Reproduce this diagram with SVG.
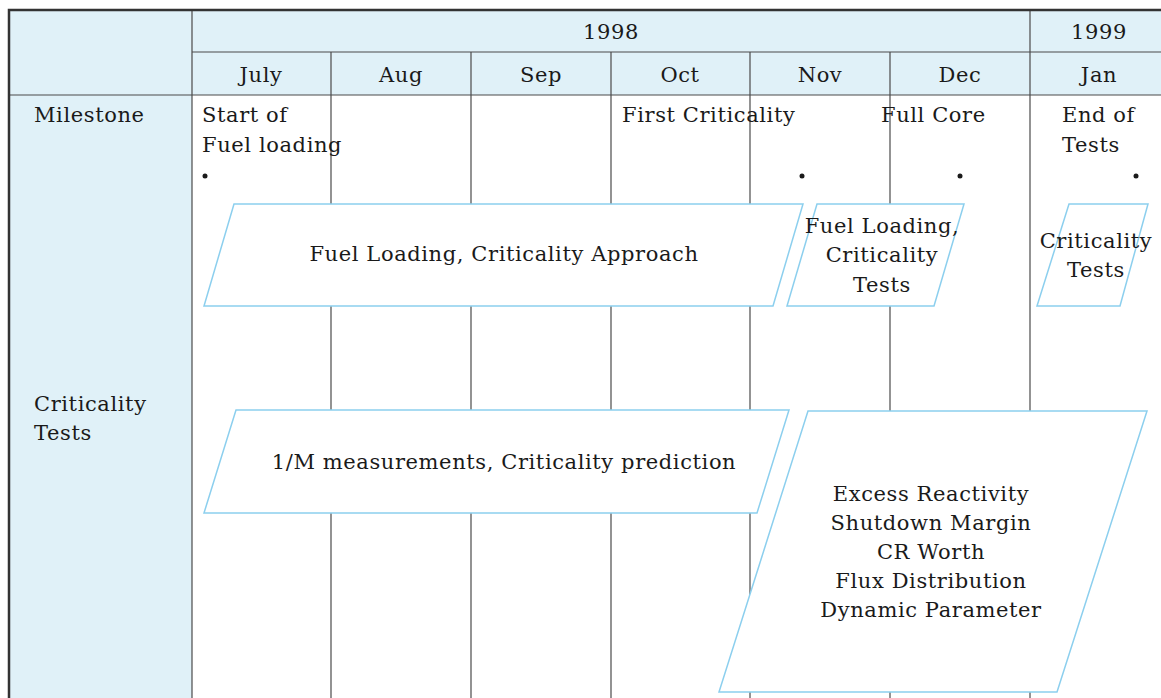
<svg xmlns="http://www.w3.org/2000/svg" width="1161" height="698" viewBox="0 0 1161 698">
  <style>
    .band { fill: #e0f1f8; }
    .grid { stroke: #4a4a4a; stroke-width: 1.2; fill: none; }
    .frame { stroke: #333; stroke-width: 2.5; fill: none; }
    .task { fill: #ffffff; stroke: #8ccfee; stroke-width: 1.5; }
    text { font-family: "DejaVu Serif", "Liberation Serif", serif; font-size: 21px; letter-spacing: 0.6px; fill: #1a1a1a; }
    .c { text-anchor: middle; }
    .dot { fill: #1a1a1a; }
  </style>

  <!-- background -->
  <rect x="0" y="0" width="1161" height="698" fill="#ffffff"/>

  <!-- shaded header row and label column -->
  <g id="shading">
    <rect class="band" x="8" y="10" width="1153" height="85"/>
    <rect class="band" x="8" y="95" width="184" height="603"/>
  </g>

  <!-- table grid -->
  <g id="grid">
    <line class="grid" x1="192" y1="52" x2="1161" y2="52"/>
    <line class="grid" x1="8" y1="95" x2="1161" y2="95"/>
    <line class="grid" x1="192" y1="10" x2="192" y2="698"/>
    <line class="grid" x1="331" y1="52" x2="331" y2="698"/>
    <line class="grid" x1="471" y1="52" x2="471" y2="698"/>
    <line class="grid" x1="611" y1="52" x2="611" y2="698"/>
    <line class="grid" x1="750" y1="52" x2="750" y2="698"/>
    <line class="grid" x1="890" y1="52" x2="890" y2="698"/>
    <line class="grid" x1="1030" y1="10" x2="1030" y2="698"/>
    <path class="frame" d="M9,698 V10 H1161"/>
  </g>

  <!-- header labels -->
  <g id="header">
    <text class="c" x="611" y="39">1998</text>
    <text class="c" x="1099" y="39">1999</text>
    <text class="c" x="261" y="82">July</text>
    <text class="c" x="401" y="82">Aug</text>
    <text class="c" x="541" y="82">Sep</text>
    <text class="c" x="680" y="82">Oct</text>
    <text class="c" x="820" y="82">Nov</text>
    <text class="c" x="960" y="82">Dec</text>
    <text class="c" x="1099" y="82">Jan</text>
  </g>

  <!-- row labels -->
  <g id="row-labels">
    <text x="34" y="122">Milestone</text>
    <text x="34" y="411">Criticality</text>
    <text x="34" y="440">Tests</text>
  </g>

  <!-- milestones -->
  <g id="milestone-start">
    <text x="202" y="122">Start of</text>
    <text x="202" y="152">Fuel loading</text>
    <circle class="dot" cx="205" cy="176" r="2.5"/>
  </g>
  <g id="milestone-first-criticality">
    <text x="622" y="122">First Criticality</text>
    <circle class="dot" cx="802" cy="176" r="2.5"/>
  </g>
  <g id="milestone-full-core">
    <text x="881" y="122">Full Core</text>
    <circle class="dot" cx="960" cy="176" r="2.5"/>
  </g>
  <g id="milestone-end">
    <text x="1062" y="122">End of</text>
    <text x="1062" y="152">Tests</text>
    <circle class="dot" cx="1136" cy="176" r="2.5"/>
  </g>

  <!-- activity bars -->
  <g id="fuel-loading-approach">
    <polygon class="task" points="234,204 803,204 773,306 204,306"/>
    <text class="c" x="504" y="261">Fuel Loading, Criticality Approach</text>
  </g>
  <g id="fuel-loading-tests">
    <polygon class="task" points="817,204 964,204 934,306 787,306"/>
    <text class="c" x="882" y="233">Fuel Loading,</text>
    <text class="c" x="882" y="262">Criticality</text>
    <text class="c" x="882" y="292">Tests</text>
  </g>
  <g id="criticality-tests-jan">
    <polygon class="task" points="1069,204 1148,204 1120,306 1037,306"/>
    <text class="c" x="1096" y="248">Criticality</text>
    <text class="c" x="1096" y="277">Tests</text>
  </g>
  <g id="one-over-m">
    <polygon class="task" points="236,410 789,410 757,513 204,513"/>
    <text class="c" x="504" y="469">1/M measurements, Criticality prediction</text>
  </g>
  <g id="core-physics-tests">
    <polygon class="task" points="808,411 1147,411 1057,692 719,692"/>
    <text class="c" x="931" y="501">Excess Reactivity</text>
    <text class="c" x="931" y="530">Shutdown Margin</text>
    <text class="c" x="931" y="559">CR Worth</text>
    <text class="c" x="931" y="588">Flux Distribution</text>
    <text class="c" x="931" y="617">Dynamic Parameter</text>
  </g>
</svg>
